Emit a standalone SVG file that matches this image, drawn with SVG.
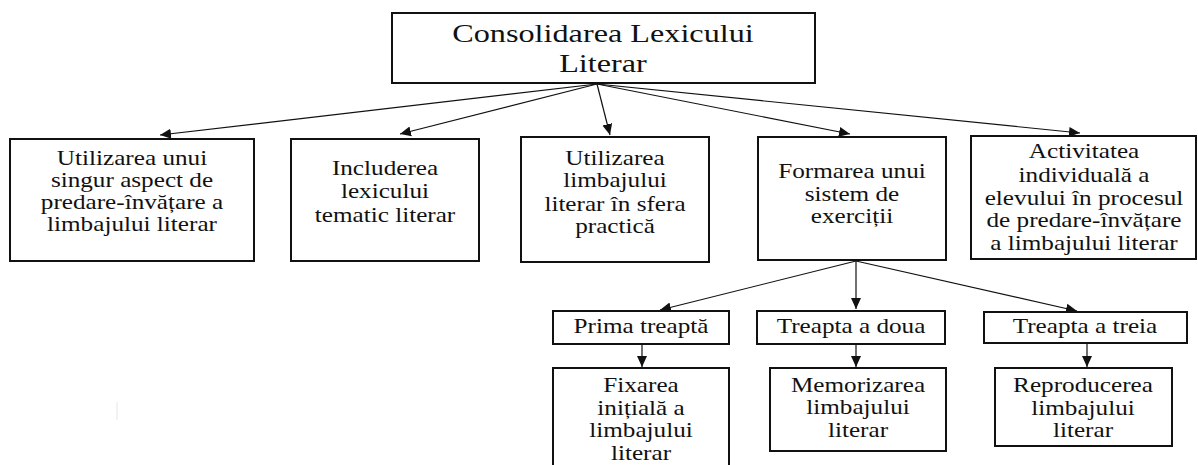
<svg xmlns="http://www.w3.org/2000/svg" width="1198" height="465" viewBox="0 0 1198 465">
<style>
.box{fill:#fff;stroke:#111;stroke-width:2}
.t{font-family:"Liberation Serif","Times New Roman",serif;font-size:20px;fill:#111;text-anchor:middle}
.title{font-size:26px}
.c{stroke:#111;stroke-width:1.2;fill:none;marker-end:url(#ah)}
</style>
<defs>
<marker id="ah" markerUnits="userSpaceOnUse" markerWidth="12" markerHeight="12" viewBox="0 0 12 12" refX="11" refY="6" orient="auto">
<path d="M0,1 L11,6 L0,11 Z" fill="#111"/>
</marker>
</defs>
<rect width="1198" height="465" fill="#fff"/>
<g id="connectors">
<line class="c" x1="597" y1="84" x2="160" y2="135"/>
<line class="c" x1="597" y1="84" x2="400" y2="134"/>
<line class="c" x1="597" y1="84" x2="610" y2="135"/>
<line class="c" x1="597" y1="84" x2="850" y2="134"/>
<line class="c" x1="597" y1="84" x2="1080" y2="133"/>
<line class="c" x1="856" y1="261" x2="660" y2="310"/>
<line class="c" x1="856" y1="261" x2="856" y2="309"/>
<line class="c" x1="856" y1="261" x2="1077" y2="311"/>
<line class="c" x1="642" y1="344" x2="642" y2="367"/>
<line class="c" x1="856" y1="344" x2="856" y2="367"/>
<line class="c" x1="1087" y1="343" x2="1087" y2="367"/>
</g>
<g id="root">
<rect class="box" x="392" y="13" width="423" height="70"/>
<g transform="translate(603,0) scale(1.24,1)"><text class="t title" x="0" y="42">Consolidarea Lexicului</text><text class="t title" x="0" y="72">Literar</text></g>
</g>
<g id="n1">
<rect class="box" x="10" y="139" width="244" height="122"/>
<g transform="translate(132,0) scale(1.26,1)"><text class="t" x="0" y="165">Utilizarea unui</text><text class="t" x="0" y="187">singur aspect de</text><text class="t" x="0" y="209">predare-învățare a</text><text class="t" x="0" y="231">limbajului literar</text></g>
</g>
<g id="n2">
<rect class="box" x="291" y="139" width="188" height="122"/>
<g transform="translate(385,0) scale(1.26,1)"><text class="t" x="0" y="175">Includerea</text><text class="t" x="0" y="198">lexicului</text><text class="t" x="0" y="222">tematic literar</text></g>
</g>
<g id="n3">
<rect class="box" x="521" y="137" width="188" height="125"/>
<g transform="translate(615,0) scale(1.26,1)"><text class="t" x="0" y="165">Utilizarea</text><text class="t" x="0" y="187">limbajului</text><text class="t" x="0" y="211">literar în sfera</text><text class="t" x="0" y="233">practică</text></g>
</g>
<g id="n4">
<rect class="box" x="758" y="137" width="188" height="123"/>
<g transform="translate(852,0) scale(1.26,1)"><text class="t" x="0" y="178">Formarea unui</text><text class="t" x="0" y="201">sistem de</text><text class="t" x="0" y="223">exerciții</text></g>
</g>
<g id="n5">
<rect class="box" x="971" y="136" width="225" height="123"/>
<g transform="translate(1084,0) scale(1.26,1)"><text class="t" x="0" y="158">Activitatea</text><text class="t" x="0" y="182">individuală a</text><text class="t" x="0" y="205">elevului în procesul</text><text class="t" x="0" y="227">de predare-învățare</text><text class="t" x="0" y="250">a limbajului literar</text></g>
</g>
<g id="s1">
<rect class="box" x="553" y="311" width="176" height="33"/>
<g transform="translate(641,0) scale(1.26,1)"><text class="t" x="0" y="333">Prima treaptă</text></g>
</g>
<g id="s2">
<rect class="box" x="757" y="311" width="188" height="33"/>
<g transform="translate(851,0) scale(1.26,1)"><text class="t" x="0" y="333">Treapta a doua</text></g>
</g>
<g id="s3">
<rect class="box" x="984" y="312" width="203" height="31"/>
<g transform="translate(1085,0) scale(1.26,1)"><text class="t" x="0" y="333">Treapta a treia</text></g>
</g>
<g id="r1">
<rect class="box" x="553" y="368" width="176" height="110"/>
<g transform="translate(641,0) scale(1.26,1)"><text class="t" x="0" y="392">Fixarea</text><text class="t" x="0" y="415">inițială a</text><text class="t" x="0" y="437">limbajului</text><text class="t" x="0" y="460">literar</text></g>
</g>
<g id="r2">
<rect class="box" x="770" y="368" width="176" height="83"/>
<g transform="translate(858,0) scale(1.26,1)"><text class="t" x="0" y="392">Memorizarea</text><text class="t" x="0" y="414">limbajului</text><text class="t" x="0" y="437">literar</text></g>
</g>
<g id="r3">
<rect class="box" x="995" y="368" width="177" height="78"/>
<g transform="translate(1083,0) scale(1.26,1)"><text class="t" x="0" y="392">Reproducerea</text><text class="t" x="0" y="415">limbajului</text><text class="t" x="0" y="437">literar</text></g>
</g>
<line x1="117" y1="402" x2="117" y2="420" stroke="#e6e6e6" stroke-width="1"/>
</svg>
